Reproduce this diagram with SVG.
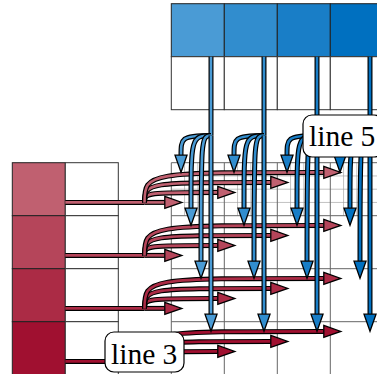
<svg xmlns="http://www.w3.org/2000/svg" width="377" height="374" viewBox="0 0 377 374">
<style>
.cell{stroke:#222;stroke-width:1}
.wc{fill:#fff;stroke:#333;stroke-width:1}
.grid{fill:none;stroke:#666;stroke-width:1}
.fine{fill:none;stroke:#999;stroke-width:0.6}
.o{fill:none;stroke:#000;stroke-width:5}
.i{fill:none;stroke-width:2.6}
.c0 .i{stroke:#c06070}.c1 .i{stroke:#b5455a}.c2 .i{stroke:#ab2b45}.c3 .i{stroke:#a01030}
.d0 .i{stroke:#4a9bd5}.d1 .i{stroke:#318dce}.d2 .i{stroke:#197ec7}.d3 .i{stroke:#0070c0}
.hd{stroke:#000;stroke-width:1.3}
.lbl{fill:#fff;stroke:#000;stroke-width:1.2}
.t{font-family:"Liberation Serif","Times New Roman",serif;font-size:29.5px;fill:#000}
</style>
<defs>
<marker id="mr0" markerUnits="userSpaceOnUse" markerWidth="20" markerHeight="16" refX="1" refY="7" orient="auto" overflow="visible"><path class="hd" d="M1,1L18,7L1,13Z" fill="#c06070"/></marker>
<marker id="mr1" markerUnits="userSpaceOnUse" markerWidth="20" markerHeight="16" refX="1" refY="7" orient="auto" overflow="visible"><path class="hd" d="M1,1L18,7L1,13Z" fill="#b5455a"/></marker>
<marker id="mr2" markerUnits="userSpaceOnUse" markerWidth="20" markerHeight="16" refX="1" refY="7" orient="auto" overflow="visible"><path class="hd" d="M1,1L18,7L1,13Z" fill="#ab2b45"/></marker>
<marker id="mr3" markerUnits="userSpaceOnUse" markerWidth="20" markerHeight="16" refX="1" refY="7" orient="auto" overflow="visible"><path class="hd" d="M1,1L18,7L1,13Z" fill="#a01030"/></marker>
<marker id="mb0" markerUnits="userSpaceOnUse" markerWidth="20" markerHeight="16" refX="1" refY="7" orient="auto" overflow="visible"><path class="hd" d="M1,1L18,7L1,13Z" fill="#4a9bd5"/></marker>
<marker id="mb1" markerUnits="userSpaceOnUse" markerWidth="20" markerHeight="16" refX="1" refY="7" orient="auto" overflow="visible"><path class="hd" d="M1,1L18,7L1,13Z" fill="#318dce"/></marker>
<marker id="mb2" markerUnits="userSpaceOnUse" markerWidth="20" markerHeight="16" refX="1" refY="7" orient="auto" overflow="visible"><path class="hd" d="M1,1L18,7L1,13Z" fill="#197ec7"/></marker>
<marker id="mb3" markerUnits="userSpaceOnUse" markerWidth="20" markerHeight="16" refX="1" refY="7" orient="auto" overflow="visible"><path class="hd" d="M1,1L18,7L1,13Z" fill="#0070c0"/></marker>
<path id="rs" d="M65.3,202.4H144.5"/>
<path id="rk0" d="M144.5,202.4H164.8"/>
<path id="rk1" d="M144.5,202.4C144.5,192.4 147.5,192.4 217.8,192.4"/>
<path id="rk2" d="M144.5,202.4C144.5,182.4 147.5,182.4 270.8,182.4"/>
<path id="rk3" d="M144.5,202.4C144.5,172.4 147.5,172.4 323.8,172.4"/>
<path id="bs" d="M211,56.7V135.5"/>
<path id="bi0" d="M211,135.5C181,135.5 181,138.5 181,155.2"/>
<path id="bi1" d="M211,135.5C191,135.5 191,138.5 191,208.2"/>
<path id="bi2" d="M211,135.5C201,135.5 201,138.5 201,261.2"/>
<path id="bi3" d="M211,135.5V314.2"/>
</defs>

<g id="result-grid">
<path class="fine" d="M184.55,162.7V215.7M197.8,162.7V215.7M211.05,162.7V215.7M237.55,162.7V215.7M250.8,162.7V215.7M264.05,162.7V215.7M290.55,162.7V215.7M303.8,162.7V215.7M317.05,162.7V215.7M343.55,162.7V215.7M356.8,162.7V215.7M370.05,162.7V215.7M171.3,175.95H377M171.3,189.2H377M171.3,202.45H377"/>
<path class="grid" d="M171.3,162.7V374M224.3,162.7V374M277.3,162.7V374M330.3,162.7V374M171.3,162.7H377M171.3,215.7H377M171.3,268.7H377M171.3,321.7H377"/>
</g>

<g id="a-column">
<rect class="cell" x="12.3" y="162.7" width="53" height="53" fill="#c06070"/>
<rect class="cell" x="12.3" y="215.7" width="53" height="53" fill="#b5455a"/>
<rect class="cell" x="12.3" y="268.7" width="53" height="53" fill="#ab2b45"/>
<rect class="cell" x="12.3" y="321.7" width="53" height="53" fill="#a01030"/>
<rect class="wc" x="65.3" y="162.7" width="53" height="53"/>
<rect class="wc" x="65.3" y="215.7" width="53" height="53"/>
<rect class="wc" x="65.3" y="268.7" width="53" height="53"/>
<rect class="wc" x="65.3" y="321.7" width="53" height="53"/>
</g>

<g id="b-row">
<rect class="cell" x="171.3" y="3.7" width="53" height="53" fill="#4a9bd5"/>
<rect class="cell" x="224.3" y="3.7" width="53" height="53" fill="#318dce"/>
<rect class="cell" x="277.3" y="3.7" width="53" height="53" fill="#197ec7"/>
<rect class="cell" x="330.3" y="3.7" width="53" height="53" fill="#0070c0"/>
<rect class="wc" x="171.3" y="56.7" width="53" height="53"/>
<rect class="wc" x="224.3" y="56.7" width="53" height="53"/>
<rect class="wc" x="277.3" y="56.7" width="53" height="53"/>
<rect class="wc" x="330.3" y="56.7" width="53" height="53"/>
</g>

<g id="connectors">
<g id="red-row-0" class="c0">
<use href="#rs" class="o"/><use href="#rs" class="i"/>
<use href="#rk0" class="o"/><use href="#rk0" class="i" marker-end="url(#mr0)"/>
<use href="#rk1" class="o"/><use href="#rk1" class="i" marker-end="url(#mr0)"/>
<use href="#rk2" class="o"/><use href="#rk2" class="i" marker-end="url(#mr0)"/>
<use href="#rk3" class="o"/><use href="#rk3" class="i" marker-end="url(#mr0)"/>
</g>
<g id="red-row-1" class="c1" transform="translate(0,53)">
<use href="#rs" class="o"/><use href="#rs" class="i"/>
<use href="#rk0" class="o"/><use href="#rk0" class="i" marker-end="url(#mr1)"/>
<use href="#rk1" class="o"/><use href="#rk1" class="i" marker-end="url(#mr1)"/>
<use href="#rk2" class="o"/><use href="#rk2" class="i" marker-end="url(#mr1)"/>
<use href="#rk3" class="o"/><use href="#rk3" class="i" marker-end="url(#mr1)"/>
</g>
<g id="red-row-2" class="c2" transform="translate(0,106)">
<use href="#rs" class="o"/><use href="#rs" class="i"/>
<use href="#rk0" class="o"/><use href="#rk0" class="i" marker-end="url(#mr2)"/>
<use href="#rk1" class="o"/><use href="#rk1" class="i" marker-end="url(#mr2)"/>
<use href="#rk2" class="o"/><use href="#rk2" class="i" marker-end="url(#mr2)"/>
<use href="#rk3" class="o"/><use href="#rk3" class="i" marker-end="url(#mr2)"/>
</g>
<g id="red-row-3" class="c3" transform="translate(0,159)">
<use href="#rs" class="o"/><use href="#rs" class="i"/>
<use href="#rk0" class="o"/><use href="#rk0" class="i" marker-end="url(#mr3)"/>
<use href="#rk1" class="o"/><use href="#rk1" class="i" marker-end="url(#mr3)"/>
<use href="#rk2" class="o"/><use href="#rk2" class="i" marker-end="url(#mr3)"/>
<use href="#rk3" class="o"/><use href="#rk3" class="i" marker-end="url(#mr3)"/>
</g>
<g id="blue-col-0" class="d0">
<use href="#bs" class="o"/><use href="#bs" class="i"/>
<use href="#bi0" class="o"/><use href="#bi0" class="i" marker-end="url(#mb0)"/>
<use href="#bi1" class="o"/><use href="#bi1" class="i" marker-end="url(#mb0)"/>
<use href="#bi2" class="o"/><use href="#bi2" class="i" marker-end="url(#mb0)"/>
<use href="#bi3" class="o"/><use href="#bi3" class="i" marker-end="url(#mb0)"/>
</g>
<g id="blue-col-1" class="d1" transform="translate(53,0)">
<use href="#bs" class="o"/><use href="#bs" class="i"/>
<use href="#bi0" class="o"/><use href="#bi0" class="i" marker-end="url(#mb1)"/>
<use href="#bi1" class="o"/><use href="#bi1" class="i" marker-end="url(#mb1)"/>
<use href="#bi2" class="o"/><use href="#bi2" class="i" marker-end="url(#mb1)"/>
<use href="#bi3" class="o"/><use href="#bi3" class="i" marker-end="url(#mb1)"/>
</g>
<g id="blue-col-2" class="d2" transform="translate(106,0)">
<use href="#bs" class="o"/><use href="#bs" class="i"/>
<use href="#bi0" class="o"/><use href="#bi0" class="i" marker-end="url(#mb2)"/>
<use href="#bi1" class="o"/><use href="#bi1" class="i" marker-end="url(#mb2)"/>
<use href="#bi2" class="o"/><use href="#bi2" class="i" marker-end="url(#mb2)"/>
<use href="#bi3" class="o"/><use href="#bi3" class="i" marker-end="url(#mb2)"/>
</g>
<g id="blue-col-3" class="d3" transform="translate(159,0)">
<use href="#bs" class="o"/><use href="#bs" class="i"/>
<use href="#bi0" class="o"/><use href="#bi0" class="i" marker-end="url(#mb3)"/>
<use href="#bi1" class="o"/><use href="#bi1" class="i" marker-end="url(#mb3)"/>
<use href="#bi2" class="o"/><use href="#bi2" class="i" marker-end="url(#mb3)"/>
<use href="#bi3" class="o"/><use href="#bi3" class="i" marker-end="url(#mb3)"/>
</g>
</g>

<g id="label-line3">
<rect class="lbl" x="105" y="332" width="79" height="40" rx="9"/>
<text class="t" x="111" y="363.5">line 3</text>
</g>
<g id="label-line5">
<rect class="lbl" x="303" y="115" width="80" height="42" rx="9"/>
<text class="t" x="309" y="146">line 5</text>
</g>
</svg>
